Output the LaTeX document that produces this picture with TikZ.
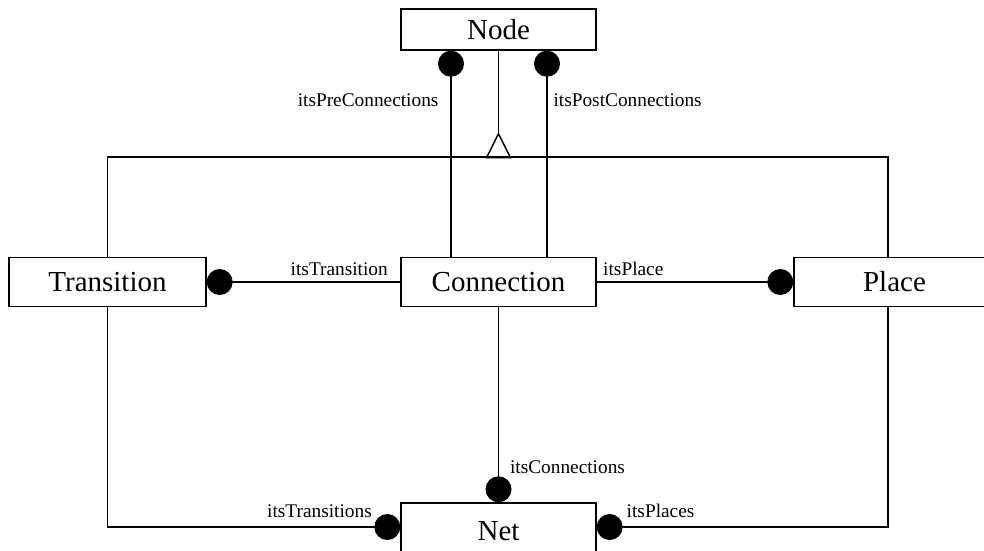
\documentclass[tikz,border=0pt]{standalone}
\usepackage{fontspec}
\setmainfont{Liberation Serif}
\usetikzlibrary{arrows.meta}

\tikzset{ball/.tip={Circle[length=0.52cm]}}

\begin{document}
\begin{tikzpicture}[x=0.02cm, y=-0.02cm, line width=0.8pt,
  classbox/.style={draw, minimum width=3.9cm, minimum height=0.97cm, inner sep=0pt,
    font=\fontsize{16.5}{20}\selectfont},
  role/.style={font=\fontsize{11}{13}\selectfont}]
\useasboundingbox (0,0) rectangle (984,551);
\clip (0,0) rectangle (984,551);

\node[classbox, minimum height=0.82cm] (node) at (498.5,29.5) {Node};
\node[classbox, minimum width=3.94cm] (transition) at (107.5,282) {Transition};
\node[classbox] (connection) at (498.5,282) {Connection};
\node[classbox, minimum width=4.02cm] (place) at (894.5,282) {Place};
\node[classbox, minimum height=1.12cm] (net) at (498.5,531) {Net};

\coordinate (gen) at (498.5,157);
\coordinate (preX) at (451,0);
\coordinate (postX) at (547,0);
\coordinate (placeX) at (888,0);
\coordinate (netline) at (0,527);

% inheritance
\draw (transition.north) |- (gen) -| (placeX |- place.north);
\draw (node.south) -- ++(0,83) coordinate (apex);
\draw (apex) -- ++(-12,24) -- ++(24,0) -- cycle;

% associations
\draw[ball-] (node.south -| preX) -- (connection.north -| preX) node[role, pos=0.24, left, xshift=-0.12cm] {itsPreConnections};
\draw[ball-] (node.south -| postX) -- (connection.north -| postX) node[role, pos=0.24, right] {itsPostConnections};
\draw[ball-] (transition.east) -- (connection.west) node[role, pos=1, above left, xshift=-0.12cm] {itsTransition};
\draw[-ball] (connection.east) -- (place.west) node[role, pos=0, above right] {itsPlace};
\draw[-ball] (connection.south) -- (net.north) node[role, pos=0.82, right, xshift=0.1cm] {itsConnections};
\draw[-ball] (transition.south) |- (netline -| net.west) node[role, pos=1, above left, xshift=-0.44cm, yshift=0.06cm] {itsTransitions};
\draw[ball-] (netline -| net.east) -| (placeX |- place.south) node[role, pos=0, above right, xshift=0.47cm, yshift=0.06cm] {itsPlaces};
\end{tikzpicture}
\end{document}
